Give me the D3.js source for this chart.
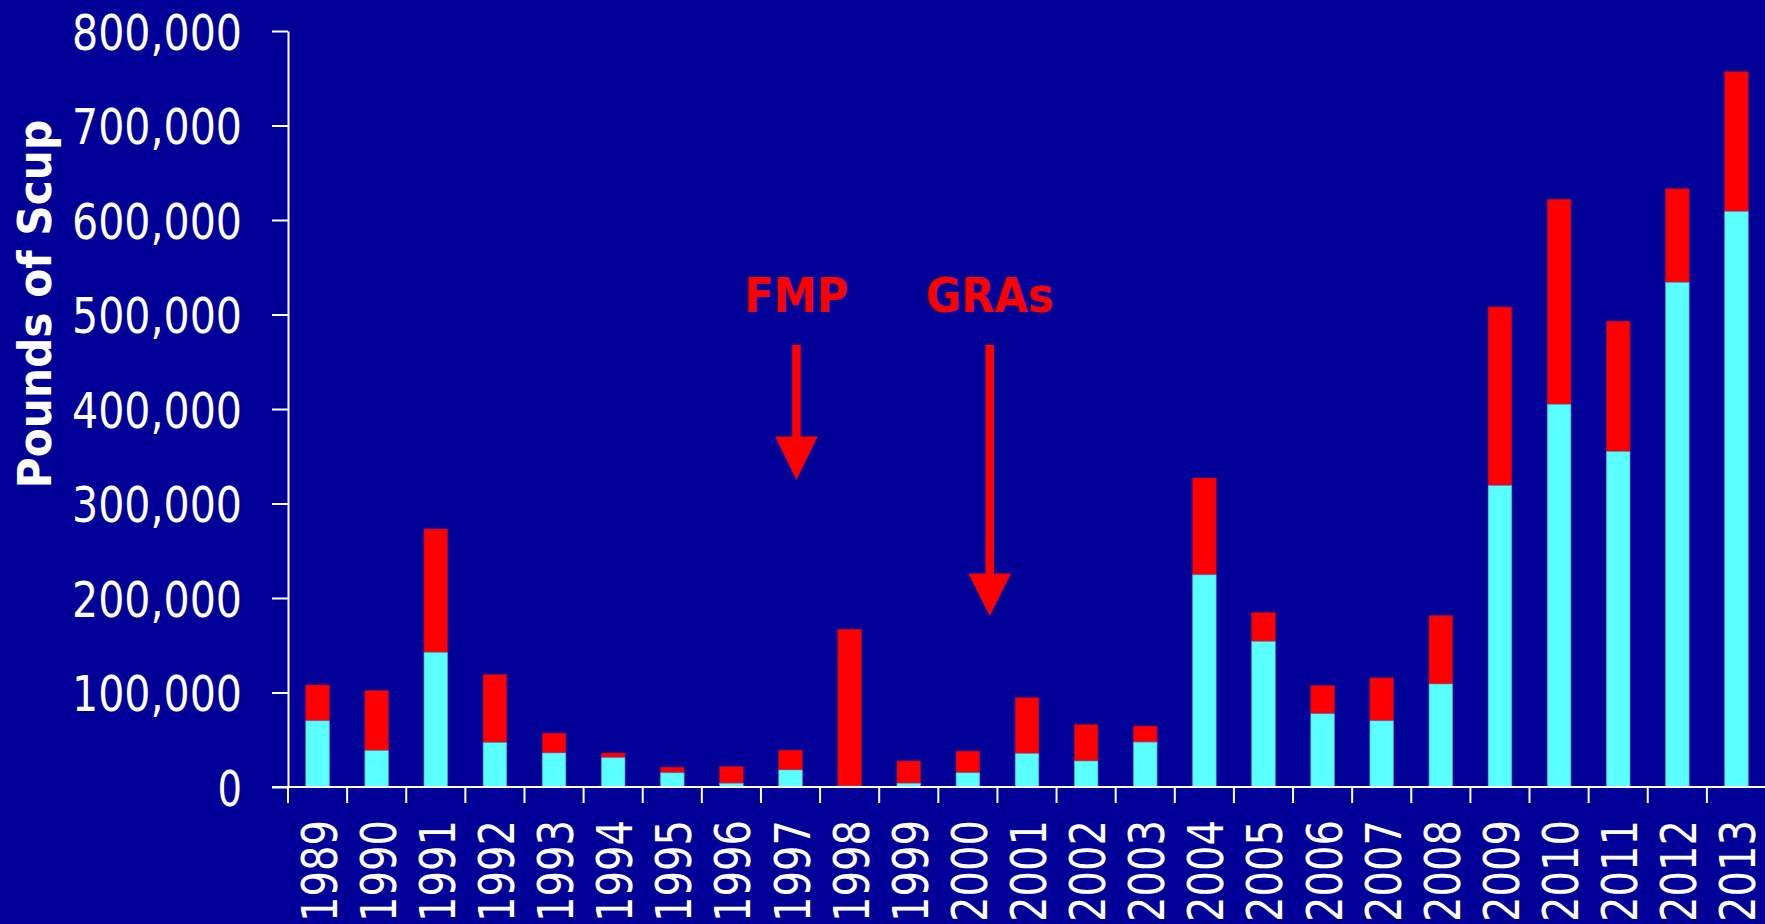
<!DOCTYPE html>
<html>
<head>
<meta charset="utf-8">
<script src="https://cdn.jsdelivr.net/npm/d3@7"></script>
<style>
  html, body { margin: 0; padding: 0; background: #000099; overflow: hidden; }
  svg { display: block; }
  text { font-family: "DejaVu Sans Condensed", "DejaVu Sans", sans-serif; }
</style>
</head>
<body>
<div id="chart"></div>
<script>
// Scup landings by year (pounds)
const years = ["1989", "1990", "1991", "1992", "1993", "1994", "1995", "1996", "1997", "1998",
  "1999", "2000", "2001", "2002", "2003", "2004", "2005", "2006", "2007", "2008",
  "2009", "2010", "2011", "2012", "2013"];
// lower (cyan) segment
const lowerValues = [70000, 38500, 142500, 47000, 36000, 31000, 15000, 4000, 18000, 1000,
  4000, 15000, 35500, 27500, 47500, 224500, 154000, 77500, 70000, 109000,
  319000, 405000, 355000, 534000, 609000];
// bar totals (red segment sits on top up to this)
const totalValues = [108000, 102000, 273000, 119000, 57000, 36000, 21000, 21500, 39000, 167000,
  27500, 38000, 94500, 66000, 64500, 327000, 184500, 107500, 115500, 181500,
  508000, 622000, 493000, 633000, 757000];
const yTicks = [0, 100000, 200000, 300000, 400000, 500000, 600000, 700000, 800000];

// arrow annotations: position in year units, shaft top / head top / tip in pounds
const notes = [
  { label: "FMP", at: 1997.6, top: 468000, head: 371000, tip: 325000 },
  { label: "GRAs", at: 2000.87, top: 468000, head: 226000, tip: 181000 }
];

const width = 1765, height = 924;
const margin = { top: 31, right: -1, bottom: 137, left: 288 };

const svg = d3.select("#chart")
  .append("svg")
  .attr("width", width)
  .attr("height", height);

svg.append("rect")
  .attr("width", width)
  .attr("height", height)
  .attr("fill", "#000099");

const xScale = d3.scaleBand()
  .domain(years)
  .range([margin.left, width - margin.right])
  .paddingInner(0.6)
  .paddingOuter(0.3);

const yScale = d3.scaleLinear()
  .domain([0, 800000])
  .range([height - margin.bottom, margin.top]);

// year -> pixel for the annotations
const yearX = d3.scaleLinear()
  .domain([1989, 1989 + years.length])
  .range([margin.left, width - margin.right]);

// y axis
const yFmt = d3.format(",");
const yAxis = d3.axisLeft(yScale)
  .tickValues(yTicks)
  .tickSizeInner(16)
  .tickSizeOuter(0)
  .tickPadding(30)
  .tickFormat(yFmt);

const gy = svg.append("g")
  .attr("class", "y-axis")
  .attr("transform", `translate(${margin.left}, 0)`)
  .call(yAxis);
gy.selectAll("path.domain").style("stroke", "#fff").style("stroke-width", 2);
gy.selectAll(".tick line").style("stroke", "#fff").style("stroke-width", 2);
gy.selectAll("text")
  .style("font-size", "50px")
  .style("fill", "#fff")
  .attr("dy", "0.36em")
  .attr("textLength", d => d === 0 ? 24.5 : 170)
  .attr("lengthAdjust", "spacingAndGlyphs");

// bars: lower segment then red top segment
const bars = svg.append("g").attr("class", "bars");

bars.selectAll(".bar-top")
  .data(years)
  .enter()
  .append("rect")
  .attr("class", "bar-top")
  .attr("x", d => xScale(d))
  .attr("width", xScale.bandwidth())
  .attr("y", (d, i) => yScale(totalValues[i]))
  .attr("height", (d, i) => yScale(lowerValues[i]) - yScale(totalValues[i]))
  .attr("fill", "#ff0000")
  .attr("stroke", "#b00030")
  .attr("stroke-width", 0.6);

bars.selectAll(".bar-low")
  .data(years)
  .enter()
  .append("rect")
  .attr("class", "bar-low")
  .attr("x", d => xScale(d))
  .attr("width", xScale.bandwidth())
  .attr("y", (d, i) => yScale(lowerValues[i]))
  .attr("height", (d, i) => yScale(0) - yScale(lowerValues[i]))
  .attr("fill", "#5affff")
  .attr("stroke", "#4a9adf")
  .attr("stroke-width", 0.6);

// x axis: baseline, tick marks between categories, rotated year labels
const step = xScale.step();
const xAxis = d3.axisBottom(xScale).tickSize(0).tickPadding(0);
const gx = svg.append("g")
  .attr("class", "x-axis")
  .attr("transform", `translate(0, ${yScale(0)})`)
  .call(xAxis);
gx.select("path.domain").remove();
gx.selectAll(".tick text")
  .style("font-size", "50px")
  .style("fill", "#fff")
  .attr("text-anchor", "end")
  .attr("transform", "rotate(-90)")
  .attr("x", -33)
  .attr("y", 0)
  .attr("dy", "0.38em")
  .attr("textLength", 102)
  .attr("lengthAdjust", "spacingAndGlyphs");

gx.append("line")
  .attr("x1", margin.left - 16)
  .attr("x2", width)
  .attr("y1", 0)
  .attr("y2", 0)
  .style("stroke", "#fff")
  .style("stroke-width", 2);

gx.selectAll(".cat-tick")
  .data(d3.range(years.length + 1))
  .enter()
  .append("line")
  .attr("class", "cat-tick")
  .attr("x1", i => margin.left + i * step)
  .attr("x2", i => margin.left + i * step)
  .attr("y1", 0)
  .attr("y2", 16)
  .style("stroke", "#fff")
  .style("stroke-width", 2);

// y axis title
svg.append("text")
  .attr("transform", `translate(51, ${(height - margin.bottom + margin.top) / 2 - 105}) rotate(-90)`)
  .attr("text-anchor", "middle")
  .style("font-size", "47px")
  .style("font-weight", "bold")
  .style("fill", "#fff")
  .text("Pounds of Scup");

// annotations
const shaft = 8.5, headW = 42.5;
const ann = svg.append("g").attr("class", "notes");

ann.selectAll(".note-label")
  .data(notes)
  .enter()
  .append("text")
  .attr("class", "note-label")
  .attr("x", d => yearX(d.at))
  .attr("y", 311.5)
  .attr("text-anchor", "middle")
  .style("font-size", "48px")
  .style("font-weight", "bold")
  .style("fill", "#ff0000")
  .text(d => d.label);

ann.selectAll(".note-arrow")
  .data(notes)
  .enter()
  .append("path")
  .attr("class", "note-arrow")
  .attr("d", d => {
    const x = yearX(d.at);
    const yTop = yScale(d.top), yHead = yScale(d.head), yTip = yScale(d.tip);
    return `M${x - shaft / 2},${yTop} L${x + shaft / 2},${yTop} L${x + shaft / 2},${yHead}
      L${x + headW / 2},${yHead} L${x},${yTip} L${x - headW / 2},${yHead}
      L${x - shaft / 2},${yHead} Z`;
  })
  .attr("fill", "#ff0000");
</script>
</body>
</html>
